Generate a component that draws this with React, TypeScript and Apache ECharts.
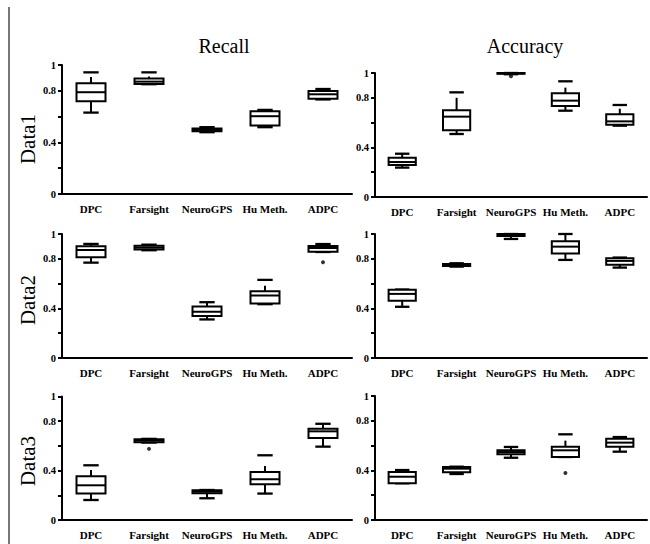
import React, { useEffect, useRef } from "react";
import * as echarts from "echarts";

const methods = ["DPC", "Farsight", "NeuroGPS", "Hu Meth.", "ADPC"];
const columnTitles = ["Recall", "Accuracy"];
const rowTitles = ["Data1", "Data2", "Data3"];

// each box: [min, q1, median, q3, max, upperWhiskerLineEnd]
const recallData1 = [
  [0.631, 0.719, 0.789, 0.858, 0.943, 0.907],
  [0.851, 0.853, 0.871, 0.895, 0.943, 0.91],
  [0.479, 0.487, 0.497, 0.508, 0.518, 0.518],
  [0.518, 0.531, 0.603, 0.642, 0.652, 0.652],
  [0.733, 0.739, 0.773, 0.798, 0.814, 0.814],
];
const accuracyData1 = [
  [0.237, 0.258, 0.282, 0.317, 0.349, 0.349],
  [0.508, 0.538, 0.648, 0.699, 0.844, 0.8],
  [0.99, 0.993, 0.997, 1.0, 1.0, 1.0],
  [0.696, 0.734, 0.777, 0.836, 0.933, 0.882],
  [0.575, 0.583, 0.61, 0.667, 0.742, 0.712],
];
const recallData2 = [
  [0.769, 0.812, 0.871, 0.901, 0.92, 0.92],
  [0.869, 0.874, 0.89, 0.906, 0.914, 0.914],
  [0.311, 0.338, 0.373, 0.416, 0.45, 0.45],
  [0.434, 0.44, 0.504, 0.539, 0.63, 0.582],
  [0.855, 0.857, 0.887, 0.903, 0.919, 0.919],
];
const accuracyData2 = [
  [0.413, 0.461, 0.517, 0.55, 0.552, 0.552],
  [0.737, 0.742, 0.751, 0.759, 0.764, 0.764],
  [0.96, 0.984, 0.995, 1.0, 1.0, 1.0],
  [0.791, 0.842, 0.898, 0.941, 1.0, 1.0],
  [0.729, 0.753, 0.783, 0.804, 0.81, 0.81],
];
const recallData3 = [
  [0.162, 0.214, 0.281, 0.354, 0.443, 0.405],
  [0.627, 0.63, 0.643, 0.654, 0.657, 0.657],
  [0.176, 0.216, 0.23, 0.241, 0.243, 0.243],
  [0.214, 0.289, 0.33, 0.389, 0.524, 0.438],
  [0.594, 0.664, 0.718, 0.739, 0.779, 0.779],
];
const accuracyData3 = [
  [0.296, 0.296, 0.349, 0.387, 0.403, 0.403],
  [0.371, 0.385, 0.414, 0.428, 0.43, 0.43],
  [0.502, 0.53, 0.548, 0.562, 0.589, 0.589],
  [0.508, 0.508, 0.562, 0.591, 0.691, 0.64],
  [0.551, 0.591, 0.624, 0.656, 0.669, 0.669],
];

// outliers: [methodIndex, value]
const outliersAccuracy1 = [[2, 0.973]];
const outliersRecall2 = [[4, 0.772]];
const outliersRecall3 = [[1, 0.576]];
const outliersAccuracy3 = [[3, 0.379]];

const panels = [
  { boxes: recallData1, outliers: [] as number[][] },
  { boxes: accuracyData1, outliers: outliersAccuracy1 },
  { boxes: recallData2, outliers: outliersRecall2 },
  { boxes: accuracyData2, outliers: [] as number[][] },
  { boxes: recallData3, outliers: outliersRecall3 },
  { boxes: accuracyData3, outliers: outliersAccuracy3 },
];

const grids = [
  { left: 62, top: 65, width: 290, height: 129 },
  { left: 375, top: 73, width: 272, height: 124 },
  { left: 62, top: 234, width: 290, height: 124 },
  { left: 375, top: 234, width: 272, height: 124 },
  { left: 62, top: 396.5, width: 290, height: 123.5 },
  { left: 375, top: 396, width: 272, height: 124 },
];

const SERIF = "'Liberation Serif', 'Times New Roman', serif";

function renderBox(params: any, api: any) {
  const x = api.value(0);
  const mn = api.coord([x, api.value(1)]);
  const q1 = api.coord([x, api.value(2)]);
  const md = api.coord([x, api.value(3)]);
  const q3 = api.coord([x, api.value(4)]);
  const mx = api.coord([x, api.value(5)]);
  const wt = api.coord([x, api.value(6)]);
  const band = api.size([1, 0])[0];
  const bw = band * 0.5;
  const cw = bw * 0.53;
  const cx = mn[0];
  const st = { stroke: "#000", lineWidth: 2, fill: null };
  return {
    type: "group",
    children: [
      { type: "line", shape: { x1: cx, y1: q1[1], x2: cx, y2: mn[1] }, style: st },
      { type: "line", shape: { x1: cx - cw / 2, y1: mn[1], x2: cx + cw / 2, y2: mn[1] }, style: { ...st, lineWidth: 2.3 } },
      { type: "line", shape: { x1: cx, y1: q3[1], x2: cx, y2: wt[1] }, style: st },
      { type: "line", shape: { x1: cx - cw / 2, y1: mx[1], x2: cx + cw / 2, y2: mx[1] }, style: { ...st, lineWidth: 2.3 } },
      {
        type: "rect",
        shape: { x: cx - bw / 2, y: q3[1], width: bw, height: q1[1] - q3[1] },
        style: { stroke: "#000", lineWidth: 2, fill: "#fff" },
      },
      { type: "line", shape: { x1: cx - bw / 2, y1: md[1], x2: cx + bw / 2, y2: md[1] }, style: st },
    ],
  };
}

export default function App() {
  const ref = useRef<HTMLDivElement>(null);
  useEffect(() => {
    if (!ref.current) return;
    const chart = echarts.init(ref.current, null, { renderer: "svg" });
    const xAxis = grids.map((_, i) => ({
      type: "category",
      gridIndex: i,
      data: methods,
      boundaryGap: true,
      axisLine: { lineStyle: { color: "#000", width: 2 } },
      axisTick: { alignWithLabel: true, length: 4, lineStyle: { color: "#000", width: 2 } },
      axisLabel: {
        color: "#000",
        fontFamily: SERIF,
        fontWeight: "bold",
        fontSize: 11,
        margin: 9,
        interval: 0,
      },
      splitLine: { show: false },
    }));
    const yAxis = grids.map((_, i) => ({
      type: "value",
      gridIndex: i,
      min: 0,
      max: 1,
      interval: 0.2,
      axisLine: { show: true, lineStyle: { color: "#000", width: 2 } },
      axisTick: { show: true, length: 4, lineStyle: { color: "#000", width: 2 } },
      splitLine: { show: false },
      axisLabel: {
        color: "#000",
        fontFamily: SERIF,
        fontWeight: "bold",
        fontSize: 10.5,
        margin: 6,
        formatter: (v: number) => {
          if (Math.abs(v) < 1e-6) return "0";
          if (Math.abs(v - 1) < 1e-6) return "1";
          if (Math.abs(v - 0.4) < 1e-6) return "0.4";
          if (Math.abs(v - 0.8) < 1e-6) return "0.8";
          return "";
        },
      },
    }));
    const series: any[] = [];
    panels.forEach((p, i) => {
      series.push({
        type: "custom",
        xAxisIndex: i,
        yAxisIndex: i,
        renderItem: renderBox,
        encode: { x: 0, y: [1, 2, 3, 4, 5, 6] },
        data: p.boxes.map((b, k) => [k, ...b]),
        silent: true,
      });
      if (p.outliers.length) {
        series.push({
          type: "scatter",
          xAxisIndex: i,
          yAxisIndex: i,
          symbol: "circle",
          symbolSize: 4,
          itemStyle: { color: "#000" },
          data: p.outliers,
          silent: true,
        });
      }
    });
    const graphic: any[] = [
      { type: "line", shape: { x1: 9, y1: 7, x2: 9, y2: 544 }, style: { stroke: "#777", lineWidth: 2 } },
      {
        type: "text",
        x: 224,
        y: 46,
        style: { text: columnTitles[0], font: `20px ${SERIF}`, fill: "#000", textAlign: "center", textVerticalAlign: "middle" },
      },
      {
        type: "text",
        x: 525,
        y: 46,
        style: { text: columnTitles[1], font: `20px ${SERIF}`, fill: "#000", textAlign: "center", textVerticalAlign: "middle" },
      },
    ];
    const rowY = [139, 300, 461];
    rowTitles.forEach((t, r) => {
      graphic.push({
        type: "text",
        x: 28,
        y: rowY[r],
        rotation: Math.PI / 2,
        style: { text: t, font: `21px ${SERIF}`, fill: "#000", textAlign: "center", textVerticalAlign: "middle" },
      });
    });
    chart.setOption({
      animation: false,
      backgroundColor: "#fff",
      grid: grids.map((g) => ({ ...g, containLabel: false })),
      xAxis,
      yAxis,
      series,
      graphic,
    });
    return () => chart.dispose();
  }, []);
  return (
    <div
      ref={ref}
      style={{ position: "absolute", left: 0, top: 0, width: 650, height: 544 }}
    />
  );
}
